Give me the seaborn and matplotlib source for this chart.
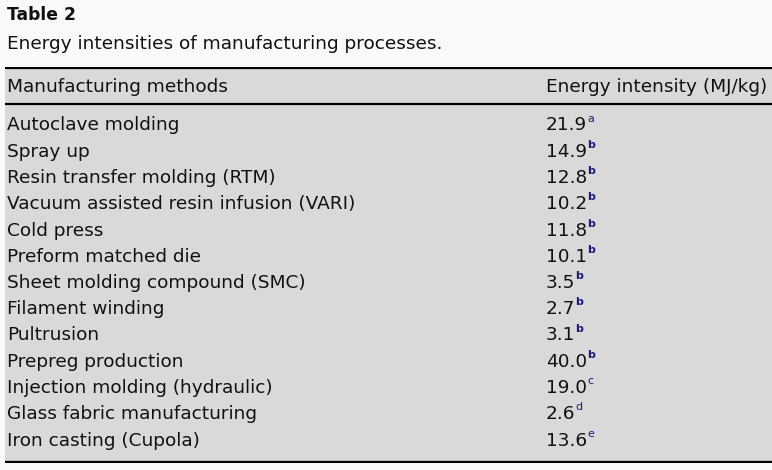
import matplotlib
matplotlib.use("Agg")
import matplotlib.pyplot as plt
import matplotlib.transforms as mtransforms
import seaborn as sns

table_label = "Table 2"
caption = "Energy intensities of manufacturing processes."
col_headers = ["Manufacturing methods", "Energy intensity (MJ/kg)"]
methods = [
    "Autoclave molding",
    "Spray up",
    "Resin transfer molding (RTM)",
    "Vacuum assisted resin infusion (VARI)",
    "Cold press",
    "Preform matched die",
    "Sheet molding compound (SMC)",
    "Filament winding",
    "Pultrusion",
    "Prepreg production",
    "Injection molding (hydraulic)",
    "Glass fabric manufacturing",
    "Iron casting (Cupola)",
]
energy = [21.9, 14.9, 12.8, 10.2, 11.8, 10.1, 3.5, 2.7, 3.1, 40.0, 19.0, 2.6, 13.6]
notes = ["a", "b", "b", "b", "b", "b", "b", "b", "b", "b", "c", "d", "e"]

sns.set_theme(style="white")
plt.rcParams["font.family"] = ["DejaVu Sans"]

W, H = 772, 470
fig = plt.figure(figsize=(W / 100, H / 100), dpi=100)
fig.patch.set_facecolor("#f9f9f9")

# table axes: pixel region x 5..772, y 67..463
left, right, top, bottom = 5, 772, 67, 463
ax = fig.add_axes([left / W, 1 - bottom / H, (right - left) / W, (bottom - top) / H])
ax.set_facecolor("#d9d9d9")
row0, step = 125.5, 26.25
ax.set_ylim((bottom - row0) / step, (top - row0) / step)
ax.set_xlim(0, 1)
ax.set_xticks([])
ax.set_yticks([])
sns.despine(ax=ax, left=True, bottom=True, top=True, right=True)

fs = 13.3
tx = mtransforms.blended_transform_factory(ax.transAxes, ax.transData)
x_name = 2 / (right - left)
x_val = (546 - left) / (right - left)
y_header = (87 - row0) / step
y_rule = (104 - row0) / step

ax.axhline((top + 1 - row0) / step, color="black", lw=1.6)
ax.axhline(y_rule, color="black", lw=1.6)
ax.axhline((bottom - 1.5 - row0) / step, color="black", lw=2.4)

ax.text(x_name, y_header, col_headers[0], transform=tx, ha="left", va="center",
        fontsize=fs, color="#111111")
ax.text(x_val, y_header, col_headers[1], transform=tx, ha="left", va="center",
        fontsize=fs, color="#111111", clip_on=False)

for i, (m, v, n) in enumerate(zip(methods, energy, notes)):
    ax.text(x_name, i, m, transform=tx, ha="left", va="center", fontsize=fs, color="#111111")
    t = ax.text(x_val, i, f"{v:.1f}", transform=tx, ha="left", va="center",
                fontsize=fs, color="#111111")
    ax.annotate(n, xy=(1, 1), xycoords=t, xytext=(0.0, 2.0), textcoords="offset points",
                ha="left", va="top", fontsize=fs * 0.6, color="#1a1a7a",
                fontweight="bold" if n == "b" else "normal")

fig.text(7 / W, 1 - 15 / H, table_label, ha="left", va="center", fontsize=12.3,
         fontweight="bold", color="#111111")
fig.text(7 / W, 1 - 44 / H, caption, ha="left", va="center", fontsize=fs, color="#111111")

fig.savefig("out.png", dpi=100, facecolor=fig.get_facecolor())
